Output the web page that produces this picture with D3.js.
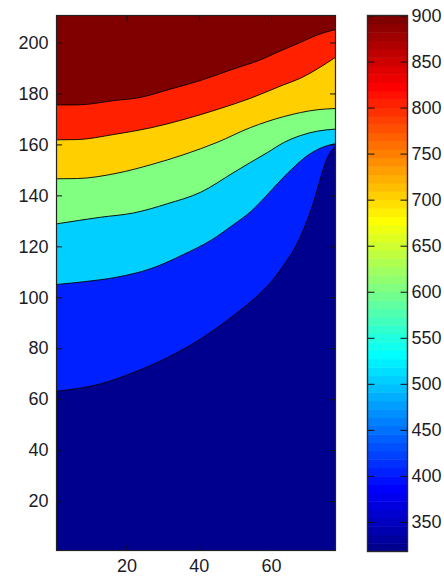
<!DOCTYPE html>
<html>
<head>
<meta charset="utf-8">
<script src="https://cdn.jsdelivr.net/npm/d3@7"></script>
<style>
  html, body { margin: 0; padding: 0; background: #fff; }
  svg { display: block; }
  text { font-family: "Liberation Sans", Arial, Helvetica, sans-serif; }
</style>
</head>
<body>
<svg id="chart" width="444" height="577"></svg>
<script>
// ---------------- data ----------------
const levels = [400, 500, 600, 700, 800, 900];
const colorDomain = [317.9, 900];
const xDomain = [0.65, 77.85];
const yDomain = [0.6, 210.6];
const xTicks = [20, 40, 60];
const yTicks = [20, 40, 60, 80, 100, 120, 140, 160, 180, 200];
const colorTicks = [350, 400, 450, 500, 550, 600, 650, 700, 750, 800, 850, 900];

// contour lines (x, y in data units)
const c400X = [0.65, 12.8, 22.0, 31.3, 40.5, 49.6, 55.7, 60.4, 64.0, 67.1, 69.55, 71.5, 73.15, 74.5, 75.9, 77.85];
const c400Y = [63.1, 66.0, 70.5, 76.3, 83.6, 92.8, 99.9, 106.6, 113.6, 120.7, 128.5, 136.0, 143.9, 150.5, 155.6, 159.2];
const c500X = [0.65, 8.2, 17.4, 26.7, 35.8, 43.3, 49.6, 54.35, 58.5, 62.6, 66.8, 70.9, 74.5, 77.85];
const c500Y = [105.0, 106.1, 107.9, 111.2, 116.8, 122.3, 128.5, 133.6, 139.5, 145.8, 151.7, 156.4, 159.0, 160.3];
const c600X = [0.65, 12.8, 22.0, 31.3, 40.5, 49.7, 54.3, 59.0, 63.5, 68.2, 72.8, 77.85];
const c600Y = [128.8, 131.4, 133.1, 136.7, 141.2, 149.0, 152.9, 156.8, 160.7, 163.5, 165.2, 166.0];
const c700X = [0.65, 6.4, 17.4, 26.7, 35.9, 45.1, 54.3, 63.5, 72.8, 77.85];
const c700Y = [146.5, 146.6, 148.7, 152.0, 156.0, 160.8, 166.6, 170.9, 173.6, 174.1];
const c800X = [0.65, 6.4, 16.5, 26.7, 35.9, 45.1, 54.3, 63.5, 68.2, 72.8, 77.85];
const c800Y = [161.8, 161.9, 163.9, 166.5, 169.8, 173.7, 178.1, 183.4, 186.0, 189.6, 194.2];
const c900X = [0.65, 6.4, 16.5, 24.0, 31.4, 40.5, 49.6, 57.1, 61.8, 68.2, 73.7, 77.85];
const c900Y = [175.5, 175.5, 177.2, 178.5, 181.4, 185.1, 189.6, 193.2, 196.2, 200.1, 203.4, 205.1];

const contourXs = [c400X, c500X, c600X, c700X, c800X, c900X];
const contourYs = [c400Y, c500Y, c600Y, c700Y, c800Y, c900Y];

// ---------------- colormap (MATLAB jet, 64 entries) ----------------
function jet(n) {
  const m = Math.ceil(n / 4);
  const u = [];
  for (let k = 1; k <= m; k++) u.push(k / m);
  for (let k = 1; k <= m - 1; k++) u.push(1);
  for (let k = m; k >= 1; k--) u.push(k / m);
  const base = Math.ceil(m / 2) - (n % 4 === 1 ? 1 : 0);
  const cols = Array.from({length: n}, () => [0, 0, 0]);
  for (let j = 0; j < u.length; j++) {
    const g = base + j + 1, r = g + m, b = g - m;
    if (g >= 1 && g <= n) cols[g - 1][1] = u[j];
    if (r >= 1 && r <= n) cols[r - 1][0] = u[j];
    if (b >= 1 && b <= n) cols[b - 1][2] = u[j];
  }
  return cols.map(c => d3.rgb(c[0] * 255, c[1] * 255, c[2] * 255).formatHex());
}
const NC = 64;
const cmap = jet(NC);
function colorFor(v) {
  const t = (v - colorDomain[0]) / (colorDomain[1] - colorDomain[0]);
  return cmap[Math.max(0, Math.min(NC - 1, Math.floor(t * NC + 1e-9)))];
}

// ---------------- layout ----------------
const svg = d3.select("#chart");
const plot = {left: 56.5, right: 335.5, top: 15.5, bottom: 550.5};
const cbar = {left: 367.5, right: 407.5, top: 15.5, bottom: 551.5};

const x = d3.scaleLinear().domain(xDomain).range([plot.left, plot.right]);
const y = d3.scaleLinear().domain(yDomain).range([plot.bottom, plot.top]);
const cy = d3.scaleLinear().domain(colorDomain).range([cbar.bottom, cbar.top]);

svg.append("defs").append("clipPath").attr("id", "clip")
  .append("rect")
  .attr("x", plot.left).attr("y", plot.top)
  .attr("width", plot.right - plot.left).attr("height", plot.bottom - plot.top);

const g = svg.append("g").attr("clip-path", "url(#clip)");

// background band (below lowest level)
g.append("rect")
  .attr("x", plot.left).attr("y", plot.top)
  .attr("width", plot.right - plot.left).attr("height", plot.bottom - plot.top)
  .attr("fill", colorFor(colorDomain[0]));

const curve = d3.curveMonotoneX;
levels.forEach((lv, i) => {
  const pts = contourXs[i].map((xv, k) => [xv, contourYs[i][k]]);
  const area = d3.area()
    .x(d => x(d[0]))
    .y0(d => y(d[1]))
    .y1(() => y(yDomain[1]) - 2)
    .curve(curve);
  g.append("path").datum(pts).attr("d", area).attr("fill", colorFor(lv));
});
levels.forEach((lv, i) => {
  const pts = contourXs[i].map((xv, k) => [xv, contourYs[i][k]]);
  const line = d3.line().x(d => x(d[0])).y(d => y(d[1])).curve(curve);
  g.append("path").datum(pts).attr("d", line)
    .attr("fill", "none").attr("stroke", "#000").attr("stroke-width", 0.9);
});

// ---------------- axes ----------------
const textColor = "#1c1c28";
const fontSize = 18;
function styleAxis(sel, showText) {
  sel.select(".domain").remove();
  sel.selectAll(".tick line").attr("stroke", "#111").attr("stroke-width", 1);
  sel.selectAll(".tick text")
    .attr("fill", textColor)
    .style("font-size", fontSize + "px")
    .attr("display", showText ? null : "none");
}
const tk = 5.5;
svg.append("g").attr("transform", `translate(${plot.left},0)`)
  .call(d3.axisLeft(y).tickValues(yTicks).tickSizeInner(-tk).tickSizeOuter(0).tickPadding(8))
  .call(s => styleAxis(s, true));
svg.append("g").attr("transform", `translate(${plot.right},0)`)
  .call(d3.axisRight(y).tickValues(yTicks).tickSizeInner(-tk).tickSizeOuter(0).tickFormat(""))
  .call(s => styleAxis(s, false));
svg.append("g").attr("transform", `translate(0,${plot.bottom})`)
  .call(d3.axisBottom(x).tickValues(xTicks).tickSizeInner(-tk).tickSizeOuter(0).tickPadding(8.5))
  .call(s => styleAxis(s, true));
svg.append("g").attr("transform", `translate(0,${plot.top})`)
  .call(d3.axisTop(x).tickValues(xTicks).tickSizeInner(-tk).tickSizeOuter(0).tickFormat(""))
  .call(s => styleAxis(s, false));

svg.append("rect")
  .attr("x", plot.left).attr("y", plot.top)
  .attr("width", plot.right - plot.left).attr("height", plot.bottom - plot.top)
  .attr("fill", "none").attr("stroke", "#222").attr("stroke-width", 1.2);

// ---------------- colorbar ----------------
const step = (colorDomain[1] - colorDomain[0]) / NC;
svg.append("g").selectAll("rect")
  .data(d3.range(NC))
  .join("rect")
  .attr("x", cbar.left)
  .attr("width", cbar.right - cbar.left)
  .attr("y", i => cy(colorDomain[0] + (i + 1) * step))
  .attr("height", i => cy(colorDomain[0] + i * step) - cy(colorDomain[0] + (i + 1) * step) + 0.5)
  .attr("fill", i => cmap[i]);

const ctk = 7;
svg.append("g").attr("transform", `translate(${cbar.right},0)`)
  .call(d3.axisRight(cy).tickValues(colorTicks).tickSizeInner(-ctk).tickSizeOuter(0).tickPadding(4))
  .call(s => styleAxis(s, true));
svg.append("g").attr("transform", `translate(${cbar.left},0)`)
  .call(d3.axisLeft(cy).tickValues(colorTicks).tickSizeInner(-ctk).tickSizeOuter(0).tickFormat(""))
  .call(s => styleAxis(s, false));

svg.append("rect")
  .attr("x", cbar.left).attr("y", cbar.top)
  .attr("width", cbar.right - cbar.left).attr("height", cbar.bottom - cbar.top)
  .attr("fill", "none").attr("stroke", "#2a2a2a").attr("stroke-width", 1.4);
</script>
</body>
</html>
